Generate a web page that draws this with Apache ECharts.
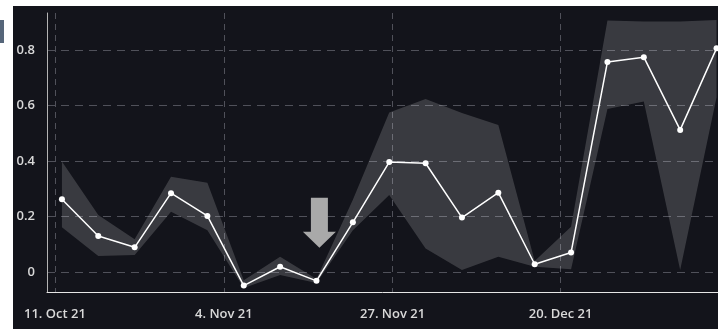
<!DOCTYPE html>
<html>
<head>
<meta charset="utf-8">
<script src="https://cdn.jsdelivr.net/npm/echarts@6/dist/echarts.min.js"></script>
<style>
  html, body { margin: 0; padding: 0; background: #ffffff; width: 718px; height: 329px; overflow: hidden; }
  #tab { position: absolute; left: 0; top: 20px; width: 4px; height: 23px; background: #56667a; }
  #chart { position: absolute; left: 13px; top: 6px; width: 705px; height: 323px; background: #13141b; }
</style>
</head>
<body>
<div id="tab"></div>
<div id="chart"></div>
<script>
// Point positions along the (ordinal) x axis: one entry per observation
const pointIndex = [0, 1, 2, 3, 4, 5, 6, 7, 8, 9, 10, 11, 12, 13, 14, 15, 16, 17, 18];
// Observed mean values
const meanValues = [0.262, 0.130, 0.089, 0.284, 0.202, -0.049, 0.019, -0.032, 0.179, 0.396,
                    0.392, 0.196, 0.286, 0.028, 0.070, 0.757, 0.774, 0.512, 0.806];
// Upper and lower bounds of the range band
const upperValues = [0.398, 0.205, 0.118, 0.343, 0.322, -0.030, 0.055, -0.025, 0.260, 0.575,
                     0.623, 0.573, 0.530, 0.040, 0.163, 0.906, 0.903, 0.903, 0.908];
const lowerValues = [0.161, 0.058, 0.061, 0.217, 0.150, -0.058, -0.011, -0.040, 0.150, 0.277,
                     0.085, 0.007, 0.055, 0.019, 0.010, 0.587, 0.614, 0.007, 0.630];
// Date ticks on the ordinal axis
const dateTickPositions = [-0.192, 4.454, 9.093, 13.712];
const dateTickLabels = ['11. Oct 21', '4. Nov 21', '27. Nov 21', '20. Dec 21'];
// Value ticks
const valueTicks = [0, 0.2, 0.4, 0.6, 0.8];
// Highlighted observation (arrow marker)
const arrowAt = [7.08, 0.177];

const meanLine = pointIndex.map((x, i) => [x, meanValues[i]]);

const labelFont = { color: '#d9d9d9', fontSize: 13, fontWeight: 600, fontFamily: '"Open Sans", sans-serif' };

// Range band drawn as one polygon: upper edge left→right, lower edge right→left
function renderBand(params, api) {
  if (params.dataIndex !== 0) return null;
  const pts = [];
  for (let i = 0; i < pointIndex.length; i++) pts.push(api.coord([pointIndex[i], upperValues[i]]));
  for (let i = pointIndex.length - 1; i >= 0; i--) pts.push(api.coord([pointIndex[i], lowerValues[i]]));
  return {
    type: 'polygon',
    shape: { points: pts },
    style: { fill: 'rgba(255,255,255,0.165)' },
    silent: true
  };
}

const chart = echarts.init(document.getElementById('chart'), null, { renderer: 'canvas' });
chart.setOption({
  animation: false,
  backgroundColor: '#13141b',
  grid: { left: 34, right: 0, top: 7, bottom: 37, containLabel: false },
  xAxis: {
    type: 'value',
    min: -0.41,
    max: 18.04,
    axisLine: { show: true, onZero: false, lineStyle: { color: '#e6e6e6', width: 1 } },
    axisTick: { show: false, customValues: dateTickPositions },
    axisLabel: Object.assign({
      customValues: dateTickPositions,
      margin: 16,
      formatter: function (v) {
        const i = dateTickPositions.findIndex(t => Math.abs(t - v) < 1e-6);
        return i >= 0 ? dateTickLabels[i] : '';
      }
    }, labelFont),
    splitLine: { show: true, lineStyle: { color: '#50515a', type: [6, 5], width: 1 } }
  },
  yAxis: {
    type: 'value',
    min: -0.0721,
    max: 0.9333,
    axisLine: { show: true, onZero: false, lineStyle: { color: '#b4b4b4', width: 1 } },
    axisTick: { show: false, customValues: valueTicks },
    axisLabel: Object.assign({
      customValues: valueTicks,
      margin: 12,
      formatter: function (v) { return String(+v.toFixed(1)); }
    }, labelFont),
    splitLine: { show: true, lineStyle: { color: '#50515a', type: [8, 6], width: 1 } }
  },
  series: [
    {
      name: 'range',
      type: 'custom',
      data: pointIndex.map((x, i) => [x, upperValues[i], lowerValues[i]]),
      encode: { x: 0, y: [1, 2] },
      renderItem: renderBand,
      silent: true,
      z: 1
    },
    {
      name: 'mean',
      type: 'line',
      data: meanLine,
      symbol: 'circle',
      symbolSize: 6,
      showAllSymbol: true,
      itemStyle: { color: '#ffffff' },
      lineStyle: { color: '#ffffff', width: 1.5 },
      z: 5,
      markPoint: {
        silent: true,
        label: { show: false },
        data: [{
          coord: arrowAt,
          symbol: 'path://M8 0 L25 0 L25 34 L33 34 L16.5 50 L0 34 L8 34 Z',
          symbolSize: [33, 50],
          itemStyle: { color: '#a9a9a9' }
        }]
      }
    }
  ]
});
</script>
</body>
</html>
